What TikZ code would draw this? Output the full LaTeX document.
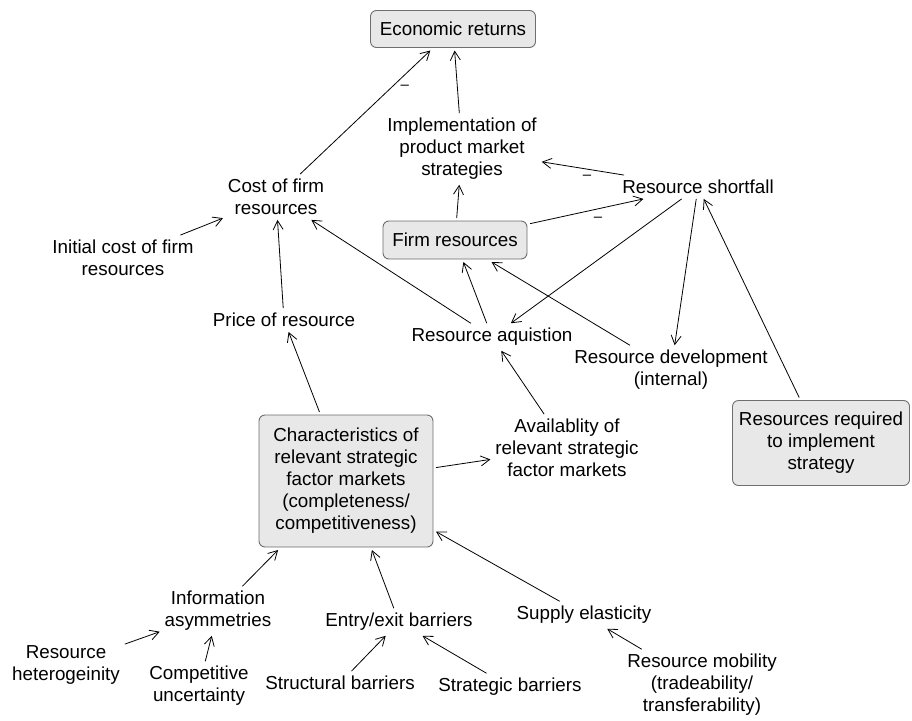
\documentclass[tikz,border=0pt]{standalone}
\usepackage{fontspec}
\setmainfont{Liberation Sans}
\usetikzlibrary{arrows.meta}
\definecolor{boxfill}{HTML}{E8E8E8}
\definecolor{boxline}{HTML}{6E6E6E}
\newcommand{\cldfont}{\fontsize{18.8}{22}\selectfont}
\tikzset{
  lbl/.style={font=\cldfont, align=center, inner sep=3pt, outer sep=2pt},
  box/.style={lbl, draw=boxline, fill=boxfill, rounded corners=6pt,
              line width=0.9pt, outer sep=3pt},
  arr/.style={-{Straight Barb[length=9pt,width=10pt]}, line width=0.8pt},
  neg/.style={font=\fontsize{15}{18}\selectfont, inner sep=0pt}
}
\begin{document}
\begin{tikzpicture}[x=1pt,y=-1pt]
\useasboundingbox (0,0) rectangle (912,720);
\fill[white] (0,0) rectangle (912,720);

% boxed variables
\node[box, minimum width=165pt, minimum height=37pt] (econ) at (453,29) {Economic returns};
\node[box, minimum width=144pt, minimum height=38pt] (firm) at (455,240) {Firm resources};
\node[box, minimum width=174pt, minimum height=132pt] (char) at (346,481)
  {Characteristics of\\relevant strategic\\factor markets\\(completeness/\\competitiveness)};
\node[box, minimum width=177pt, minimum height=85pt] (req) at (821,443)
  {Resources required\\to implement\\strategy};

% plain variables
\node[lbl] (impl) at (462,149) {Implementation of\\product market\\strategies};
\node[lbl] (short) at (698,187) {Resource shortfall};
\node[lbl] (cost) at (276,197) {Cost of firm\\resources};
\node[lbl] (init) at (123,258) {Initial cost of firm\\resources};
\node[lbl] (price) at (284,320) {Price of resource};
\node[lbl] (acq) at (492,337) {Resource aquistion};
\node[lbl] (dev) at (671,370) {Resource development\\(internal)};
\node[lbl] (avail) at (567,448) {Availablity of\\relevant strategic\\factor markets};
\node[lbl] (info) at (218,611) {Information\\asymmetries};
\node[lbl] (entry) at (399,622) {Entry/exit barriers};
\node[lbl] (supply) at (584,615) {Supply elasticity};
\node[lbl] (het) at (66,665) {Resource\\heterogeinity};
\node[lbl] (comp) at (199,686) {Competitive\\uncertainty};
\node[lbl] (struct) at (340,683) {Structural barriers};
\node[lbl] (strat) at (510,687) {Strategic barriers};
\node[lbl] (mob) at (702,685) {Resource mobility\\(tradeability/\\transferability)};

% causal links
\draw[arr] (cost) -- node[neg, pos=0.7, right=9pt] {–} (econ);
\draw[arr] (impl) -- (econ);
\draw[arr] (short) -- node[neg, pos=0.45, below=6pt] {–} (impl);
\draw[arr] (firm) -- node[neg, pos=0.6, below=8pt] {–} (short);
\draw[arr] (firm) -- (impl);
\draw[arr] (init) -- (cost);
\draw[arr] (price) -- (cost);
\draw[arr] (acq) -- (cost);
\draw[arr] (acq) -- (firm);
\draw[arr] (dev) -- (firm);
\draw[arr] (short) -- (acq);
\draw[arr] (short) -- (dev);
\draw[arr] (req) -- (short);
\draw[arr] (char) -- (price);
\draw[arr] (avail) -- (acq);
\draw[arr] (char) -- (avail);
\draw[arr] (info) -- (char);
\draw[arr] (entry) -- (char);
\draw[arr] (supply) -- (char);
\draw[arr] (het) -- (info);
\draw[arr] (comp) -- (info);
\draw[arr] (struct) -- (entry);
\draw[arr] (strat) -- (entry);
\draw[arr] (mob) -- (supply);
\end{tikzpicture}
\end{document}
